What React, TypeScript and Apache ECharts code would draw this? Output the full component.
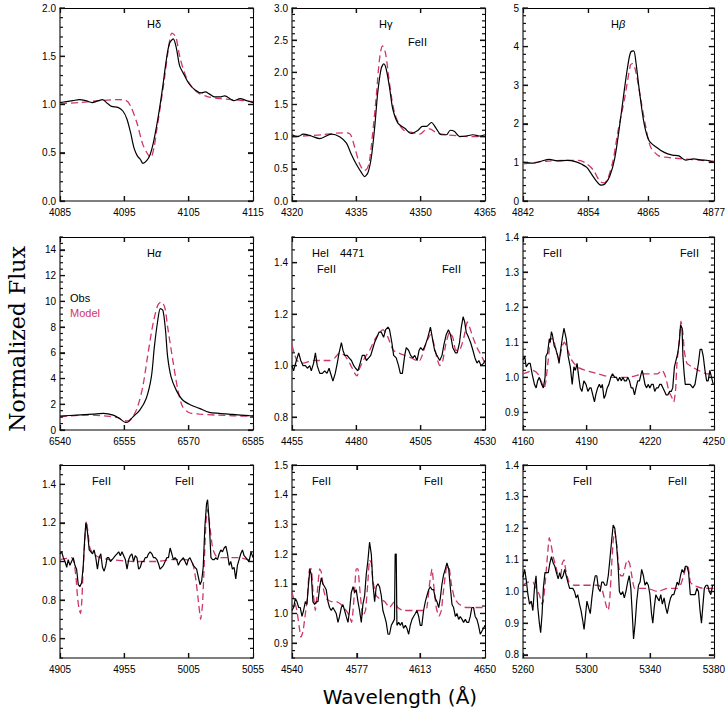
import React, { useEffect, useRef } from "react";
import * as echarts from "echarts";

// ---------- data ----------
const hdObs = [[4085,1.02],[4086,1.03],[4087,1.04],[4088,1.05],[4089,1.04],[4090,1.02],[4091,1.04],[4091.6,1.05],[4092.4,1.01],[4093,0.98],[4094,0.97],[4094.8,0.93],[4095.4,0.85],[4096,0.7],[4096.5,0.55],[4097,0.47],[4097.5,0.43],[4097.9,0.39],[4098.5,0.42],[4099,0.48],[4099.5,0.6],[4100,0.77],[4100.5,0.97],[4101,1.2],[4101.5,1.45],[4102,1.63],[4102.6,1.68],[4103.1,1.58],[4103.6,1.4],[4104.2,1.32],[4105,1.22],[4106,1.15],[4107,1.12],[4107.6,1.13],[4108.2,1.11],[4109,1.08],[4110,1.08],[4110.6,1.09],[4111.2,1.07],[4112,1.04],[4113,1.06],[4114,1.04],[4115,1.02]];
const hdModel = [[4085,1.01],[4088,1.02],[4091,1.04],[4094,1.05],[4095.3,1.04],[4096,0.98],[4097,0.8],[4097.8,0.6],[4098.5,0.5],[4099.1,0.45],[4099.6,0.55],[4100,0.72],[4100.6,0.98],[4101.2,1.25],[4101.8,1.55],[4102.4,1.74],[4103,1.7],[4103.6,1.5],[4104.4,1.32],[4105.3,1.2],[4106.5,1.12],[4108,1.08],[4110,1.06],[4112,1.05],[4115,1.03]];

const hgObs = [[4320,1.03],[4321.4,1.0],[4322.6,1.04],[4324.5,1.01],[4326.5,0.97],[4329.2,1.04],[4331.1,1.0],[4332.7,0.9],[4333.8,0.73],[4335,0.57],[4336.2,0.44],[4336.9,0.38],[4337.7,0.44],[4338.5,0.68],[4339.3,1.16],[4340,1.69],[4340.8,2.06],[4341.4,2.13],[4342,2.04],[4342.8,1.74],[4343.5,1.43],[4344.7,1.21],[4346.3,1.13],[4347.8,1.05],[4349.4,1.1],[4350.4,1.16],[4351.3,1.16],[4352.5,1.22],[4353.6,1.13],[4354.8,1.03],[4356,1.03],[4356.9,1.1],[4357.9,1.08],[4359.1,1.0],[4360.6,1.01],[4362.2,1.03],[4363.7,1.01],[4365,1.03]];
const hgModel = [[4320,1.0],[4327,1.03],[4331.9,1.06],[4333.4,1.05],[4334.6,0.84],[4335.8,0.57],[4336.9,0.47],[4337.9,0.57],[4338.8,1.05],[4339.6,1.59],[4340.4,2.2],[4341.1,2.41],[4341.8,2.3],[4342.8,1.8],[4344,1.35],[4345.9,1.11],[4348.3,1.06],[4349.8,1.04],[4351,1.1],[4352.1,1.12],[4353.7,1.06],[4356,1.03],[4362.2,1.0],[4365,1.0]];

const hbObs = [[4842,1.0],[4843.8,0.98],[4845.3,1.03],[4846.8,1.08],[4848.3,1.04],[4850.1,1.05],[4851.6,1.02],[4852.8,0.95],[4853.7,0.87],[4854.6,0.69],[4855.5,0.51],[4856.3,0.41],[4857,0.44],[4857.9,0.64],[4858.8,1.09],[4859.7,1.93],[4860.6,2.9],[4861.4,3.66],[4861.8,3.87],[4862.3,3.89],[4862.7,3.6],[4863.3,2.9],[4864.2,2.01],[4865.1,1.57],[4866.4,1.4],[4867.9,1.26],[4869.4,1.19],[4870.6,1.17],[4871.8,1.06],[4873.3,1.09],[4874.8,1.06],[4876,1.05],[4877,1.0]];
const hbModel = [[4842,0.96],[4846.2,1.03],[4849.8,1.05],[4852.2,1.05],[4853.4,0.99],[4854.9,0.8],[4856.1,0.51],[4856.9,0.47],[4857.6,0.6],[4858.5,1.04],[4859.4,1.8],[4860.6,2.63],[4861.7,3.52],[4862.1,3.56],[4862.7,3.34],[4863.6,2.63],[4864.5,1.93],[4865.4,1.4],[4866.9,1.17],[4868.5,1.13],[4871.5,1.09],[4877,1.03]];

const haObs = [[6540,1.08],[6543.9,1.16],[6547.7,1.24],[6550.1,1.29],[6552.4,1.16],[6553.9,0.9],[6555.3,0.59],[6556,0.65],[6556.9,0.98],[6558.6,1.55],[6560.1,2.45],[6561.3,4.13],[6562,6.46],[6562.8,8.53],[6563.4,9.43],[6564,9.3],[6564.6,7.75],[6565.1,5.68],[6565.9,4.13],[6567.1,3.1],[6568.6,2.33],[6570.5,1.94],[6572.5,1.68],[6574.8,1.37],[6577.1,1.29],[6580.2,1.21],[6584.1,1.11],[6585,1.1]];
const haModel = [[6540,1.03],[6546.2,1.16],[6550.8,1.08],[6553.5,0.96],[6555,0.7],[6556,0.72],[6557,1.03],[6558.1,1.81],[6559.3,3.36],[6560.4,5.68],[6561.7,8.27],[6562.8,9.69],[6563.6,9.95],[6564.4,9.56],[6565.1,8.01],[6566.3,5.43],[6567.5,3.1],[6568.6,1.81],[6570.2,1.34],[6572.5,1.24],[6576.3,1.16],[6584.1,1.08],[6585,1.08]];

const he4471Obs = [[4455,1.0],[4455.6,0.98],[4456.7,1.02],[4457.6,1.05],[4458.4,1.02],[4459.3,1.0],[4460.2,1.0],[4461,0.99],[4461.9,1.0],[4462.5,0.98],[4463.4,1.01],[4464.1,1.05],[4464.8,1.0],[4465.8,0.97],[4466.8,0.97],[4467.7,0.98],[4468.6,0.97],[4469.4,0.99],[4470.3,0.96],[4470.9,0.94],[4471.8,0.97],[4472.6,1.01],[4473.3,1.05],[4474.2,1.09],[4474.8,1.06],[4475.5,1.04],[4476.4,1.04],[4477.2,1.03],[4478.1,1.02],[4479,1.0],[4479.7,0.99],[4480.6,0.98],[4481.5,1.01],[4482.3,1.04],[4483.2,1.04],[4483.9,1.02],[4484.8,1.03],[4485.6,1.04],[4486.2,1.06],[4487.1,1.09],[4488,1.11],[4488.8,1.13],[4489.7,1.13],[4490.6,1.11],[4491.4,1.14],[4492.3,1.15],[4492.9,1.14],[4493.8,1.09],[4494.5,1.04],[4495.5,1.03],[4496.4,1.0],[4497.1,0.97],[4497.9,0.97],[4498.8,1.04],[4499.4,1.07],[4500.3,1.06],[4501.1,1.04],[4502,1.03],[4502.7,1.04],[4503.6,1.02],[4504.4,1.06],[4505,1.07],[4505.9,1.06],[4506.8,1.08],[4507.8,1.11],[4508.8,1.15],[4509.5,1.11],[4510.4,1.06],[4511.3,1.04],[4512.4,1.02],[4513.3,1.04],[4514,1.08],[4514.9,1.12],[4515.8,1.14],[4516.6,1.12],[4517.5,1.07],[4518.5,1.05],[4519.2,1.05],[4520.1,1.09],[4520.8,1.15],[4521.5,1.19],[4522.1,1.17],[4522.7,1.13],[4523.6,1.11],[4524.4,1.09],[4525.3,1.06],[4526.1,1.03],[4526.9,1.01],[4527.6,1.02],[4528.5,1.0],[4529.5,1.01],[4530,1.02]];
const he4471Model = [[4455,1.08],[4455.8,1.05],[4456.9,1.02],[4459.3,1.01],[4463.2,1.02],[4467,1.02],[4469.6,1.02],[4471.6,1.03],[4473.5,1.05],[4475.5,1.04],[4477.4,1.01],[4479.4,0.97],[4480.3,0.96],[4481.3,0.99],[4483.2,1.03],[4485.2,1.06],[4487.1,1.1],[4489.1,1.13],[4490.4,1.14],[4492.3,1.11],[4494.3,1.06],[4496.2,1.05],[4498.8,1.04],[4501.4,1.03],[4503.3,1.02],[4504.6,1.02],[4505.6,1.04],[4507.2,1.09],[4508.8,1.12],[4510,1.09],[4511.3,1.03],[4512.4,1.0],[4513.4,1.01],[4514.9,1.09],[4516.2,1.13],[4517.5,1.11],[4518.6,1.06],[4520.1,1.06],[4521.8,1.11],[4523.1,1.17],[4524,1.15],[4525.3,1.11],[4526.9,1.07],[4528.5,1.04],[4530,1.01]];

const fe4160Obs = [[4160,1.05],[4160.8,1.06],[4161.5,1.03],[4162.6,1.04],[4163.4,1.04],[4164.3,1.01],[4165.4,0.98],[4166.2,0.97],[4166.9,0.99],[4167.7,1.0],[4168.8,0.98],[4169.6,0.97],[4170.4,1.0],[4170.8,1.06],[4171.6,1.07],[4172.4,1.11],[4172.8,1.1],[4173.4,1.13],[4173.9,1.12],[4174.7,1.09],[4175.5,1.08],[4176.4,1.06],[4177,1.04],[4177.8,1.08],[4178.5,1.11],[4179.3,1.14],[4180.4,1.11],[4181.3,1.06],[4182.3,1.03],[4183.2,0.98],[4184,1.03],[4184.7,1.02],[4185.5,1.04],[4186.3,1.0],[4187,0.97],[4187.8,0.96],[4188.7,0.99],[4189.7,0.98],[4190.6,0.96],[4191.5,0.97],[4192.1,0.97],[4192.9,0.95],[4193.7,0.93],[4194.3,0.95],[4195.2,0.97],[4196,0.98],[4196.8,0.97],[4197.4,0.98],[4198.2,0.94],[4198.9,0.95],[4199.7,0.97],[4200.5,0.98],[4201.4,1.0],[4202.2,1.01],[4203.3,1.0],[4204,1.0],[4204.8,0.99],[4205.6,1.0],[4206.4,0.99],[4207.1,1.0],[4207.9,0.99],[4208.7,0.99],[4209.5,1.0],[4210.2,0.99],[4211,0.97],[4211.8,0.97],[4212.6,0.95],[4213.3,0.97],[4214.1,0.99],[4214.9,0.99],[4215.7,1.01],[4216.2,1.02],[4216.9,1.0],[4217.5,0.98],[4218.3,0.97],[4219,0.98],[4219.8,0.97],[4220.6,0.98],[4221.4,0.98],[4222.1,0.96],[4222.9,0.97],[4223.7,0.97],[4224.5,0.98],[4225.2,0.98],[4226,0.97],[4226.8,0.96],[4227.5,0.95],[4228.3,0.95],[4229.1,0.96],[4229.9,0.96],[4230.6,0.97],[4231.4,1.03],[4232.2,1.05],[4233,1.07],[4233.7,1.1],[4234.3,1.15],[4235,1.14],[4235.4,1.06],[4236,1.01],[4236.5,0.98],[4237.6,0.98],[4238.8,0.98],[4240.1,0.97],[4241.1,0.98],[4241.9,1.01],[4242.7,1.04],[4243.5,1.08],[4244.3,1.08],[4245,1.06],[4245.8,1.02],[4246.6,0.99],[4247.3,0.99],[4248.1,1.02],[4248.9,1.0],[4249.7,0.98],[4250,0.98]];
const fe4160Model = [[4160,1.01],[4164.6,1.02],[4167,1.01],[4168.5,0.99],[4170,0.97],[4170.8,0.99],[4171.9,1.05],[4173.1,1.11],[4174.2,1.11],[4175.5,1.08],[4177,1.05],[4178.5,1.09],[4179.6,1.1],[4180.9,1.08],[4182.9,1.05],[4185.5,1.03],[4189.4,1.02],[4195.5,1.01],[4201.7,1.0],[4209.5,1.0],[4217.2,1.01],[4223.4,1.01],[4225.7,1.02],[4227.3,1.0],[4228.8,0.96],[4230.4,0.94],[4231.1,0.93],[4231.9,0.96],[4232.6,1.04],[4233.7,1.11],[4234.5,1.16],[4235.3,1.13],[4236.2,1.07],[4237.3,1.04],[4239.6,1.03],[4242.7,1.02],[4246.6,1.01],[4250,1.01]];

const fe4905Obs = [[4905,1.04],[4906.3,1.05],[4907.6,1.02],[4908.9,1.0],[4910.2,0.97],[4911.4,1.01],[4912.7,0.98],[4914,1.0],[4915.3,1.02],[4916.6,0.98],[4917.9,0.96],[4919.2,0.88],[4920.5,0.87],[4921.8,0.89],[4923,0.97],[4924.3,1.13],[4925.1,1.2],[4926.4,1.15],[4927.7,1.06],[4929,1.05],[4930.3,1.04],[4931.5,1.06],[4932.8,1.02],[4934.1,0.96],[4935.4,1.02],[4936.7,1.04],[4938,0.97],[4939.3,0.95],[4940.6,0.98],[4941.6,1.02],[4942.9,1.02],[4944.2,1.0],[4945.5,1.01],[4946.8,1.02],[4948,1.03],[4949.3,1.04],[4950.6,1.05],[4951.9,1.03],[4953.2,1.05],[4954.5,1.03],[4955.8,1.01],[4957.1,0.96],[4958.4,1.01],[4959.6,1.03],[4960.9,1.04],[4962.2,1.0],[4963.5,1.03],[4964.8,1.02],[4966.1,0.96],[4967.4,0.97],[4968.7,1.0],[4970,1.0],[4971.2,1.02],[4972.5,1.02],[4973.8,1.04],[4975.1,1.05],[4976.4,1.04],[4977.7,1.02],[4979,1.02],[4980.3,1.01],[4981.5,0.99],[4982.8,0.96],[4984.1,0.97],[4985.4,0.98],[4986.7,1.0],[4988,1.02],[4989.3,1.02],[4990.6,1.07],[4991.9,1.04],[4993.1,1.01],[4994.4,1.02],[4995.7,1.01],[4997,0.98],[4998.3,1.0],[4999.6,1.01],[5000.9,1.02],[5002.2,1.0],[5003.5,0.98],[5004.7,1.01],[5006,1.02],[5007.3,1.0],[5008.6,0.98],[5009.9,0.97],[5011.2,0.96],[5012.5,0.92],[5013.8,0.88],[5015.1,0.9],[5016.3,0.97],[5017.6,1.18],[5018.9,1.3],[5019.7,1.32],[5021,1.2],[5022.3,1.02],[5023.6,1.01],[5024.9,1.01],[5026.1,1.02],[5027.4,1.01],[5028.7,1.04],[5030,1.06],[5031.3,1.05],[5032.6,1.07],[5033.9,1.08],[5035.2,1.04],[5036.5,0.98],[5037.7,1.0],[5039,0.96],[5040.3,0.97],[5041.6,0.91],[5042.9,0.98],[5044.2,1.01],[5045.5,1.04],[5046.8,1.06],[5048.1,1.03],[5049.4,1.02],[5050.6,1.01],[5051.9,1.0],[5053.5,1.05],[5055,1.02]];
const fe4905Model = [[4905,1.01],[4914,1.02],[4915.8,1.0],[4917.4,0.92],[4918.7,0.81],[4919.9,0.75],[4921,0.73],[4922,0.8],[4923,0.96],[4924.1,1.09],[4925.6,1.21],[4926.9,1.14],[4928.2,1.07],[4930.8,1.04],[4935.9,1.02],[4943.7,1.01],[4961.7,1.0],[4979.8,1.0],[4992.6,1.01],[5003,1.01],[5008.1,0.99],[5010.7,0.9],[5012.8,0.78],[5014.3,0.7],[5015.8,0.78],[5017.1,0.99],[5018.4,1.2],[5019.7,1.27],[5021.5,1.18],[5023.6,1.07],[5026.1,1.03],[5030,1.02],[5033.9,1.02],[5039,1.02],[5044.2,1.02],[5051.9,1.01],[5055,1.01]];

const fe4540Obs = [[4540,1.01],[4540.9,1.02],[4541.9,1.05],[4542.8,1.04],[4543.8,1.02],[4544.7,1.02],[4545.7,0.99],[4546.6,1.01],[4547.6,1.04],[4548.5,1.03],[4549.3,1.09],[4550.2,1.15],[4551,1.13],[4551.9,1.04],[4552.9,1.03],[4553.9,1.04],[4554.8,1.04],[4555.8,1.09],[4556.7,1.12],[4557.6,1.1],[4558.6,1.09],[4559.5,1.08],[4560.5,1.04],[4561.4,1.02],[4562.4,1.01],[4563.3,1.02],[4564.3,1.01],[4565.2,1.0],[4566.2,0.97],[4567.1,0.99],[4568.1,1.02],[4569,1.03],[4570,1.01],[4570.9,0.99],[4571.9,0.97],[4572.8,1.01],[4573.8,1.07],[4574.8,1.09],[4575.7,1.07],[4576.6,1.08],[4577.6,1.04],[4578.5,1.01],[4579.5,0.97],[4580.4,1.03],[4581.4,1.06],[4582.3,1.13],[4583.3,1.18],[4584.2,1.24],[4585.2,1.2],[4586.1,1.1],[4587.1,1.04],[4588,1.09],[4589,1.1],[4589.9,1.09],[4590.9,1.06],[4591.8,1.01],[4592.8,0.99],[4593.7,0.97],[4594.7,0.93],[4595.6,0.93],[4596.6,0.96],[4597.5,0.97],[4598.4,0.98],[4598.8,1.2],[4599.4,1.2],[4599.8,0.96],[4600.8,0.97],[4601.7,0.96],[4602.7,0.97],[4603.6,0.95],[4604.6,0.96],[4605.5,0.95],[4606.5,0.93],[4607.4,0.96],[4608.4,0.98],[4609.3,0.99],[4610.3,1.0],[4611.2,1.01],[4612.2,0.99],[4613.1,0.96],[4614,0.96],[4615,1.01],[4616,1.04],[4616.9,1.06],[4617.9,1.08],[4618.8,1.09],[4619.8,1.08],[4620.7,1.08],[4621.7,1.05],[4622.6,1.04],[4623.6,1.02],[4624.5,1.05],[4625.5,1.1],[4626.4,1.13],[4627.4,1.15],[4628.3,1.17],[4629.3,1.15],[4630.2,1.09],[4631.2,1.03],[4632.1,1.02],[4633.1,0.99],[4634,1.0],[4635,0.98],[4635.9,0.99],[4636.9,0.98],[4637.8,0.97],[4638.8,0.98],[4639.7,0.97],[4640.7,0.97],[4641.6,0.99],[4642.5,1.02],[4643.5,1.02],[4644.4,0.99],[4645.4,0.98],[4646.3,0.96],[4647.3,0.93],[4648.2,0.94],[4649.2,0.95],[4650,0.96]];
const fe4540Model = [[4540,1.07],[4541.5,1.04],[4542.8,1.01],[4544,0.96],[4545.1,0.92],[4546.3,0.94],[4547.2,0.98],[4548.7,1.05],[4550,1.15],[4551,1.15],[4551.9,1.08],[4553.3,1.01],[4554.4,1.07],[4555.8,1.15],[4556.7,1.14],[4558,1.08],[4559.5,1.05],[4562.4,1.04],[4565.2,1.04],[4568,1.03],[4570.9,1.01],[4572.8,0.99],[4574,0.97],[4574.8,1.01],[4575.7,1.08],[4576.6,1.15],[4577.6,1.15],[4578.5,1.09],[4580.4,0.99],[4581.9,1.01],[4583.3,1.11],[4584.2,1.18],[4585.2,1.17],[4586.1,1.11],[4588,1.06],[4589.9,1.05],[4592.8,1.04],[4595.6,1.02],[4598.4,1.04],[4600.3,1.02],[4603.2,1.01],[4608.9,1.01],[4613.6,1.01],[4615.5,1.01],[4616.9,1.02],[4618.4,1.1],[4619.8,1.15],[4620.7,1.1],[4622.2,1.02],[4623.8,0.99],[4625.1,1.01],[4626.4,1.08],[4627.9,1.15],[4629.3,1.16],[4630.8,1.1],[4632.7,1.05],[4635.5,1.03],[4639.3,1.02],[4643.1,1.02],[4646.9,1.02],[4650,1.02]];

const fe5260Obs = [[5260,1.045],[5261,1.07],[5262.1,1.035],[5263.1,0.99],[5264.1,0.96],[5265.2,0.97],[5266.2,0.94],[5267.2,1.01],[5268.2,1.05],[5269.3,0.95],[5270.3,0.9],[5271.1,0.87],[5272,0.93],[5272.8,1.01],[5273.8,1.06],[5274.8,1.06],[5275.9,1.06],[5276.9,1.09],[5277.9,1.11],[5279,1.09],[5280,1.08],[5281,1.06],[5282.1,1.04],[5283.1,1.06],[5284.1,1.04],[5285.2,1.05],[5286.2,1.07],[5287.2,1.05],[5288.2,1.03],[5289.3,1.01],[5290.3,1.01],[5291.3,1.01],[5292.4,1.0],[5293.4,0.98],[5294.4,0.99],[5295.5,0.96],[5296.5,0.94],[5297.5,0.91],[5298.4,0.88],[5299.2,0.92],[5300.2,0.97],[5301.2,0.95],[5302.3,0.93],[5303.3,0.98],[5304.3,1.02],[5305.4,1.05],[5306.4,1.05],[5307.4,1.01],[5308.5,1.0],[5309.5,1.03],[5310.5,1.03],[5311.5,1.02],[5312.6,1.02],[5313.6,1.05],[5314.6,1.1],[5315.7,1.16],[5316.7,1.21],[5317.7,1.2],[5318.8,1.15],[5319.8,1.08],[5320.6,1.0],[5321.6,0.99],[5322.7,1.0],[5323.7,0.98],[5324.7,1.0],[5325.8,1.03],[5326.8,1.05],[5327.8,1.01],[5328.7,0.93],[5329.5,0.85],[5330.5,0.9],[5331.5,0.97],[5332.6,1.02],[5333.6,1.03],[5334.6,1.07],[5335.7,1.05],[5336.7,1.02],[5337.7,1.03],[5338.8,1.02],[5339.8,0.99],[5340.8,0.93],[5341.6,0.9],[5342.5,0.95],[5343.5,0.99],[5344.5,0.98],[5345.6,0.97],[5346.6,0.99],[5347.6,0.96],[5348.7,0.98],[5349.7,0.95],[5350.7,0.93],[5351.8,0.96],[5352.8,0.98],[5353.8,0.99],[5354.8,0.99],[5355.9,1.01],[5356.9,1.03],[5357.9,1.02],[5359,1.05],[5360,1.07],[5361,1.06],[5362.1,1.08],[5363.1,1.08],[5364.1,1.06],[5365.2,0.99],[5366.2,0.99],[5367.2,0.99],[5368.2,0.99],[5369.3,1.01],[5370.3,1.0],[5371.3,0.94],[5372.2,0.9],[5373,0.95],[5374,1.01],[5375.1,1.02],[5376.1,1.02],[5377.1,1.0],[5378.1,0.99],[5379.2,1.02],[5380,1.02]];
const fe5260Model = [[5260,1.02],[5263.1,1.03],[5266.2,1.03],[5268.2,1.01],[5270.3,0.99],[5272,0.96],[5272.8,0.97],[5274,1.03],[5275.5,1.12],[5276.5,1.17],[5277.6,1.15],[5279,1.11],[5280.6,1.08],[5282.3,1.05],[5283.7,1.05],[5284.7,1.09],[5285.8,1.1],[5286.8,1.07],[5288.9,1.03],[5292,1.02],[5297.1,1.02],[5303.3,1.02],[5307.4,1.02],[5309.5,1.01],[5311.1,0.98],[5312.6,0.95],[5313.6,0.94],[5314.6,0.98],[5315.7,1.08],[5316.7,1.16],[5317.7,1.19],[5318.8,1.15],[5320.2,1.08],[5321.4,1.05],[5322.9,1.05],[5324.3,1.08],[5325.5,1.1],[5327,1.09],[5328.4,1.05],[5330.1,1.01],[5333.2,1.01],[5338.4,1.01],[5344.5,1.0],[5350.7,1.01],[5354.8,1.01],[5356.9,1.01],[5359,1.02],[5361,1.05],[5362.7,1.08],[5363.7,1.08],[5365.2,1.03],[5367.2,1.02],[5373.4,1.01],[5380,1.01]];

// axis ticks (labels)
const xTicksHd = [4085, 4095, 4105, 4115];
const xTicksHg = [4320, 4335, 4350, 4365];
const xTicksHb = [4842, 4854, 4865, 4877];
const xTicksHa = [6540, 6555, 6570, 6585];
const xTicks4471 = [4455, 4480, 4505, 4530];
const xTicks4160 = [4160, 4190, 4220, 4250];
const xTicks4905 = [4905, 4955, 5005, 5055];
const xTicks4540 = [4540, 4577, 4613, 4650];
const xTicks5260 = [5260, 5300, 5340, 5380];

const yTicksHd = [0, 0.5, 1.0, 1.5, 2.0];
const yTicksHg = [0, 0.5, 1.0, 1.5, 2.0, 2.5, 3.0];
const yTicksHb = [0, 1, 2, 3, 4, 5];
const yTicksHa = [0, 2, 4, 6, 8, 10, 12, 14];
const yTicks4471 = [0.8, 1.0, 1.2, 1.4];
const yTicks4160 = [0.9, 1.0, 1.1, 1.2, 1.3, 1.4];
const yTicks4905 = [0.6, 0.8, 1.0, 1.2, 1.4];
const yTicks4540 = [0.9, 1.0, 1.1, 1.2, 1.3, 1.4, 1.5];
const yTicks5260 = [0.8, 0.9, 1.0, 1.1, 1.2, 1.3, 1.4];

const panels = [
  { obs: hdObs, model: hdModel, xr: [4085, 4115], xt: xTicksHd, yr: [0, 2], yt: yTicksHd, minor: 0.1, dec: 1, smooth: true },
  { obs: hgObs, model: hgModel, xr: [4320, 4365], xt: xTicksHg, yr: [0, 3], yt: yTicksHg, minor: 0.1, dec: 1, smooth: true },
  { obs: hbObs, model: hbModel, xr: [4842, 4877], xt: xTicksHb, yr: [0, 5], yt: yTicksHb, minor: 0.2, dec: 0, smooth: true },
  { obs: haObs, model: haModel, xr: [6540, 6585], xt: xTicksHa, yr: [0, 15], yt: yTicksHa, minor: 0.5, dec: 0, smooth: true },
  { obs: he4471Obs, model: he4471Model, xr: [4455, 4530], xt: xTicks4471, yr: [0.75, 1.5], yt: yTicks4471, minor: 0.05, dec: 1, smooth: false },
  { obs: fe4160Obs, model: fe4160Model, xr: [4160, 4250], xt: xTicks4160, yr: [0.85, 1.4], yt: yTicks4160, minor: 0.02, dec: 1, smooth: false },
  { obs: fe4905Obs, model: fe4905Model, xr: [4905, 5055], xt: xTicks4905, yr: [0.5, 1.5], yt: yTicks4905, minor: 0.05, dec: 1, smooth: false },
  { obs: fe4540Obs, model: fe4540Model, xr: [4540, 4650], xt: xTicks4540, yr: [0.85, 1.5], yt: yTicks4540, minor: 0.025, dec: 1, smooth: false },
  { obs: fe5260Obs, model: fe5260Model, xr: [5260, 5380], xt: xTicks5260, yr: [0.79, 1.4], yt: yTicks5260, minor: 0.02, dec: 1, smooth: false },
];

const COLS = [60, 292, 523];
const ROWS = [8, 237, 465];
const SIZE = 193;
const MODEL_COLOR = "#cf3568";
const TICK_COLOR = "#111";
const TICK_FONT = "Liberation Sans";
const MAJOR_LEN = 5;
const MINOR_LEN = 3;

function minorValues(min: number, max: number, step: number) {
  const out: number[] = [];
  const start = Math.ceil(min / step - 1e-6);
  const end = Math.floor(max / step + 1e-6);
  for (let i = start; i <= end; i++) out.push(+(i * step).toFixed(4));
  return out;
}

// tick item: [x, y, side(0 left,1 right,2 bottom,3 top), length]
function tickItems(p: any) {
  const items: number[][] = [];
  const isMajor = (v: number) => p.yt.some((t: number) => Math.abs(t - v) < 1e-6);
  minorValues(p.yr[0], p.yr[1], p.minor).forEach((v) => {
    if (isMajor(v)) return;
    items.push([p.xr[0], v, 0, MINOR_LEN]);
    items.push([p.xr[1], v, 1, MINOR_LEN]);
  });
  p.yt.forEach((v: number) => {
    items.push([p.xr[0], v, 0, MAJOR_LEN]);
    items.push([p.xr[1], v, 1, MAJOR_LEN]);
  });
  p.xt.forEach((v: number) => {
    if (v > p.xr[0] && v < p.xr[1]) {
      items.push([v, p.yr[0], 2, MAJOR_LEN]);
      items.push([v, p.yr[1], 3, MAJOR_LEN]);
    }
  });
  return items;
}

function renderTick(params: any, api: any) {
  const pt = api.coord([api.value(0), api.value(1)]);
  const side = Number(api.value(2));
  const len = Number(api.value(3)) || MAJOR_LEN;
  let x2 = pt[0], y2 = pt[1];
  if (side === 0) x2 += len;
  else if (side === 1) x2 -= len;
  else if (side === 2) y2 -= len;
  else y2 += len;
  return {
    type: "line",
    shape: { x1: pt[0], y1: pt[1], x2, y2 },
    style: { stroke: TICK_COLOR, lineWidth: 1.2 },
  };
}

function buildOption() {
  const grid: any[] = [];
  const xAxis: any[] = [];
  const yAxis: any[] = [];
  const series: any[] = [];
  panels.forEach((p, i) => {
    const col = i % 3;
    const row = Math.floor(i / 3);
    grid.push({ left: COLS[col], top: ROWS[row], width: SIZE, height: SIZE, containLabel: false });
    const xTickCfg = { show: true, inside: true, length: MAJOR_LEN, customValues: p.xt, lineStyle: { color: TICK_COLOR, width: 1.2 } };
    const yTickCfg = { show: true, inside: true, length: MAJOR_LEN, customValues: p.yt, lineStyle: { color: TICK_COLOR, width: 1.2 } };
    const xb = xAxis.length;
    xAxis.push({
      type: "value", gridIndex: i, position: "bottom", min: p.xr[0], max: p.xr[1],
      axisLine: { show: true, onZero: false, lineStyle: { color: "#555", width: 1.6 } },
      axisTick: xTickCfg,
      axisLabel: {
        show: true, customValues: p.xt, margin: 6, fontSize: 10, fontFamily: TICK_FONT, color: "#000",
        formatter: (v: number) => String(v),
      },
      splitLine: { show: false },
    });
    xAxis.push({
      type: "value", gridIndex: i, position: "top", min: p.xr[0], max: p.xr[1],
      axisLine: { show: true, onZero: false, lineStyle: { color: "#000", width: 1 } },
      axisTick: xTickCfg, axisLabel: { show: false }, splitLine: { show: false },
    });
    const yl = yAxis.length;
    yAxis.push({
      type: "value", gridIndex: i, position: "left", min: p.yr[0], max: p.yr[1],
      axisLine: { show: true, onZero: false, lineStyle: { color: "#555", width: 1.6 } },
      axisTick: yTickCfg,
      axisLabel: {
        show: true, customValues: p.yt, margin: 4, fontSize: 10, fontFamily: TICK_FONT, color: "#000",
        formatter: (v: number) => v.toFixed(p.dec),
      },
      splitLine: { show: false },
    });
    yAxis.push({
      type: "value", gridIndex: i, position: "right", min: p.yr[0], max: p.yr[1],
      axisLine: { show: true, onZero: false, lineStyle: { color: "#000", width: 1 } },
      axisTick: yTickCfg, axisLabel: { show: false }, splitLine: { show: false },
    });
    series.push({
      type: "custom", coordinateSystem: "cartesian2d", xAxisIndex: xb, yAxisIndex: yl,
      dimensions: ["x", "y", "side", "len"], encode: { x: 0, y: 1 },
      data: tickItems(p), renderItem: renderTick, clip: false, silent: true, z: 6,
    });
    series.push({
      type: "line", xAxisIndex: xb, yAxisIndex: yl, data: p.model, showSymbol: false, symbol: "none",
      smooth: p.smooth ? 0.3 : 0.15, lineStyle: { color: MODEL_COLOR, width: 1.3, type: [7, 4] }, silent: true, z: 2,
    });
    series.push({
      type: "line", xAxisIndex: xb, yAxisIndex: yl, data: p.obs, showSymbol: false, symbol: "none",
      smooth: p.smooth ? 0.3 : false, lineStyle: { color: "#000", width: 1.2 }, silent: true, z: 3,
    });
  });

  const txt = (x: number, y: number, text: string, color = "#000", size = 11) => ({
    type: "text", x, y,
    style: { text, fill: color, font: `${size}px "Liberation Sans"`, textAlign: "left", textVerticalAlign: "middle" },
  });
  const greek = (x: number, y: number, g: string, italic: boolean) => ({
    type: "text", x, y,
    style: {
      text: `{h|H}{g|${g}}`, textAlign: "left", textVerticalAlign: "middle",
      rich: {
        h: { fontSize: 11, fontFamily: "Liberation Sans", fill: "#000" },
        g: { fontSize: 11, fontFamily: "Liberation Sans", fontStyle: italic ? "italic" : "normal", fill: "#000" },
      },
    },
  });

  const graphic: any[] = [
    greek(147, 24, "δ", false),
    greek(379, 24, "γ", false),
    txt(408, 42, "FeII"),
    greek(611, 24, "β", true),
    greek(147, 253, "α", true),
    txt(70, 298, "Obs"),
    txt(70, 313, "Model", MODEL_COLOR),
    txt(312, 253, "HeI"),
    txt(340, 253, "4471"),
    txt(317, 269, "FeII"),
    txt(442, 269, "FeII"),
    txt(543, 253, "FeII"),
    txt(680, 253, "FeII"),
    txt(92, 481, "FeII"),
    txt(175, 481, "FeII"),
    txt(312, 481, "FeII"),
    txt(424, 481, "FeII"),
    txt(573, 481, "FeII"),
    txt(668, 481, "FeII"),
    {
      type: "text", x: 17, y: 339, rotation: Math.PI / 2,
      style: { text: "Normalized Flux", fill: "#000", font: '22px "DejaVu Serif"', textAlign: "center", textVerticalAlign: "middle" },
    },
    {
      type: "text", x: 400, y: 697,
      style: { text: "Wavelength (Å)", fill: "#000", font: '20px "DejaVu Sans"', textAlign: "center", textVerticalAlign: "middle" },
    },
  ];

  return { animation: false, backgroundColor: "#fff", grid, xAxis, yAxis, series, graphic };
}

export default function App() {
  const ref = useRef<HTMLDivElement>(null);
  useEffect(() => {
    if (!ref.current) return;
    const chart = echarts.init(ref.current, undefined, { renderer: "svg" });
    chart.setOption(buildOption() as any);
    return () => chart.dispose();
  }, []);
  return <div ref={ref} style={{ position: "fixed", left: 0, top: 0, width: 728, height: 728, background: "#fff" }} />;
}
